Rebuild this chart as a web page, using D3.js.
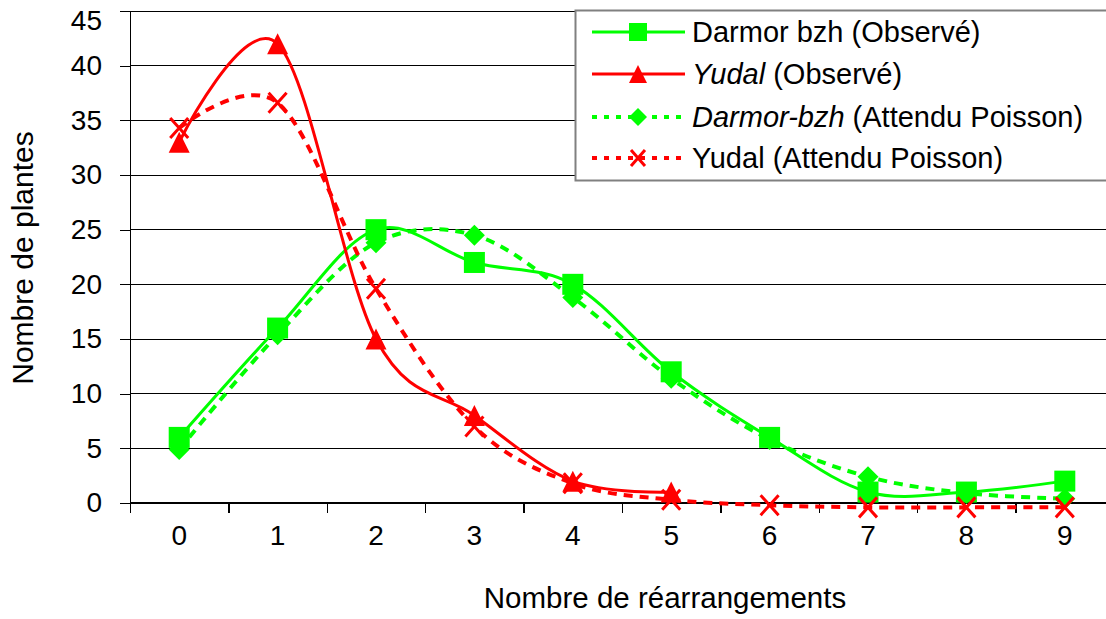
<!DOCTYPE html>
<html>
<head>
    <title>Nombre de réarrangements</title>
    <script src="https://cdnjs.cloudflare.com/ajax/libs/d3/7.8.5/d3.min.js"></script>
    <style>
        body { margin: 0; background: #fff; }
        svg { display: block; font-family: 'Liberation Sans', Arial, sans-serif; }
        .grid line { stroke: #000; stroke-width: 1; shape-rendering: crispEdges; }
        .axis path, .axis line { stroke: #000; stroke-width: 1.2; shape-rendering: crispEdges; }
        .axis text { font-size: 28px; fill: #000; }
    </style>
</head>
<body>
    <div id="chart"></div>
    <script>
        // Values
        const categories = [0, 1, 2, 3, 4, 5, 6, 7, 8, 9];
        const darmorObs = [6, 16, 25, 22, 20, 12, 6, 1, 1, 2];
        const yudalObs = [33, 42, 15, 8, 2, 1, null, null, null, null];
        const darmorPoisson = [4.9, 15.4, 23.8, 24.5, 18.8, 11.4, 5.8, 2.4, 0.9, 0.4];
        const yudalPoisson = [34.3, 36.6, 19.6, 7.0, 1.8, 0.3, -0.2, -0.4, -0.4, -0.4];
        const yTicks = [0, 5, 10, 15, 20, 25, 30, 35, 40, 45];

        const W = 1106, H = 619;
        const plotLeft = 130, plotBottom = 503, plotTop = 11;
        const bandW = 98.4;

        const svg = d3.select('#chart').append('svg')
            .attr('width', W)
            .attr('height', H);

        const x = d3.scaleLinear()
            .domain([-0.5, categories.length - 0.5])
            .range([plotLeft, plotLeft + bandW * categories.length]);

        const y = d3.scaleLinear()
            .domain([0, 45])
            .range([plotBottom, plotTop]);

        // horizontal grid
        svg.append('g')
            .attr('class', 'grid')
            .selectAll('line')
            .data(yTicks.filter(d => d > 0))
            .enter().append('line')
            .attr('x1', plotLeft).attr('x2', x.range()[1])
            .attr('y1', d => y(d)).attr('y2', d => y(d));

        // y axis
        const yAxis = svg.append('g')
            .attr('class', 'axis')
            .attr('transform', `translate(${plotLeft},0)`)
            .call(d3.axisLeft(y).tickValues(yTicks).tickSize(10).tickPadding(18).tickSizeOuter(0));
        // top label sits a bit lower than its line in the original
        yAxis.selectAll('text').attr('y', d => Math.max(0, 21 - y(d)));

        // x axis: ticks between categories, labels at centres
        const xAxis = svg.append('g')
            .attr('class', 'axis')
            .attr('transform', `translate(0,${plotBottom})`)
            .call(d3.axisBottom(x)
                .tickValues(d3.range(-0.5, categories.length, 1))
                .tickSize(10).tickSizeOuter(0)
                .tickFormat(''));
        xAxis.select('.domain').attr('d', `M${plotLeft},0H${x.range()[1]}`);

        svg.append('g')
            .selectAll('text')
            .data(categories)
            .enter().append('text')
            .attr('x', d => x(d))
            .attr('y', 545)
            .attr('text-anchor', 'middle')
            .style('font-size', '28px')
            .text(d => d);

        // axis titles
        svg.append('text')
            .attr('x', 665).attr('y', 608)
            .attr('text-anchor', 'middle')
            .style('font-size', '29.5px')
            .text('Nombre de réarrangements');

        svg.append('text')
            .attr('transform', 'translate(33,258) rotate(-90)')
            .attr('text-anchor', 'middle')
            .style('font-size', '30px')
            .text('Nombre de plantes');

        const GREEN = '#00ff00', RED = '#ff0000';

        const series = [
            { name: 'darmorObs', values: darmorObs, color: GREEN, dash: null, width: 3, marker: 'square' },
            { name: 'yudalObs', values: yudalObs, color: RED, dash: null, width: 3, marker: 'triangle' },
            { name: 'darmorPoisson', values: darmorPoisson, color: GREEN, dash: '9,7', width: 4, marker: 'diamond' },
            { name: 'yudalPoisson', values: yudalPoisson, color: RED, dash: '9,7', width: 4, marker: 'cross' }
        ];

        const line = d3.line()
            .defined(d => d.v !== null)
            .x(d => x(d.c))
            .y(d => y(d.v))
            .curve(d3.curveCardinal.tension(0));

        function drawMarker(g, type, cx, cy, color, s) {
            if (type === 'square') {
                g.append('rect')
                    .attr('x', cx - s / 2).attr('y', cy - s / 2)
                    .attr('width', s).attr('height', s)
                    .attr('fill', color);
            } else if (type === 'triangle') {
                g.append('path')
                    .attr('d', `M${cx},${cy - s / 2}L${cx + s / 2},${cy + s / 2}L${cx - s / 2},${cy + s / 2}Z`)
                    .attr('fill', color);
            } else if (type === 'diamond') {
                g.append('path')
                    .attr('d', `M${cx},${cy - s / 2}L${cx + s / 2},${cy}L${cx},${cy + s / 2}L${cx - s / 2},${cy}Z`)
                    .attr('fill', color);
            } else {
                const h = s / 2 - 1;
                g.append('path')
                    .attr('d', `M${cx - h + 1},${cy - h}L${cx + h - 1},${cy + h}M${cx + h - 1},${cy - h}L${cx - h + 1},${cy + h}`)
                    .attr('stroke', color)
                    .attr('stroke-width', 3)
                    .attr('fill', 'none');
            }
        }

        series.forEach(s => {
            const pts = categories.map((c, i) => ({ c: c, v: s.values[i] }));
            const g = svg.append('g');
            g.append('path')
                .datum(pts)
                .attr('d', line)
                .attr('fill', 'none')
                .attr('stroke', s.color)
                .attr('stroke-width', s.width)
                .attr('stroke-dasharray', s.dash);
            pts.filter(p => p.v !== null).forEach(p => {
                drawMarker(g, s.marker, x(p.c), y(p.v), s.color, s.marker === 'cross' ? 22 : 21);
            });
        });

        // legend
        const legendItems = [
            { parts: [['Darmor bzh (Observé)', false]] },
            { parts: [['Yudal', true], [' (Observé)', false]] },
            { parts: [['Darmor-bzh', true], [' (Attendu Poisson)', false]] },
            { parts: [['Yudal (Attendu Poisson)', false]] }
        ];
        const legendRowY = [32, 74, 117, 158];

        const legend = svg.append('g');
        legend.append('rect')
            .attr('x', 575.5).attr('y', 10.5)
            .attr('width', 560).attr('height', 170)
            .attr('fill', '#fff')
            .attr('stroke', '#808080')
            .attr('stroke-width', 2);

        series.forEach((s, i) => {
            const ly = legendRowY[i];
            const row = legend.append('g');
            row.append('line')
                .attr('x1', 592).attr('x2', 685)
                .attr('y1', ly).attr('y2', ly)
                .attr('stroke', s.color)
                .attr('stroke-width', s.dash ? 4 : 3)
                .attr('stroke-dasharray', s.dash ? '5,7' : null);
            drawMarker(row, s.marker, 638, ly, s.color, 18);
            const t = row.append('text')
                .attr('x', 692).attr('y', ly + 10)
                .style('font-size', '29px');
            legendItems[i].parts.forEach(p => {
                t.append('tspan')
                    .style('font-style', p[1] ? 'italic' : 'normal')
                    .text(p[0]);
            });
        });
    </script>
</body>
</html>
